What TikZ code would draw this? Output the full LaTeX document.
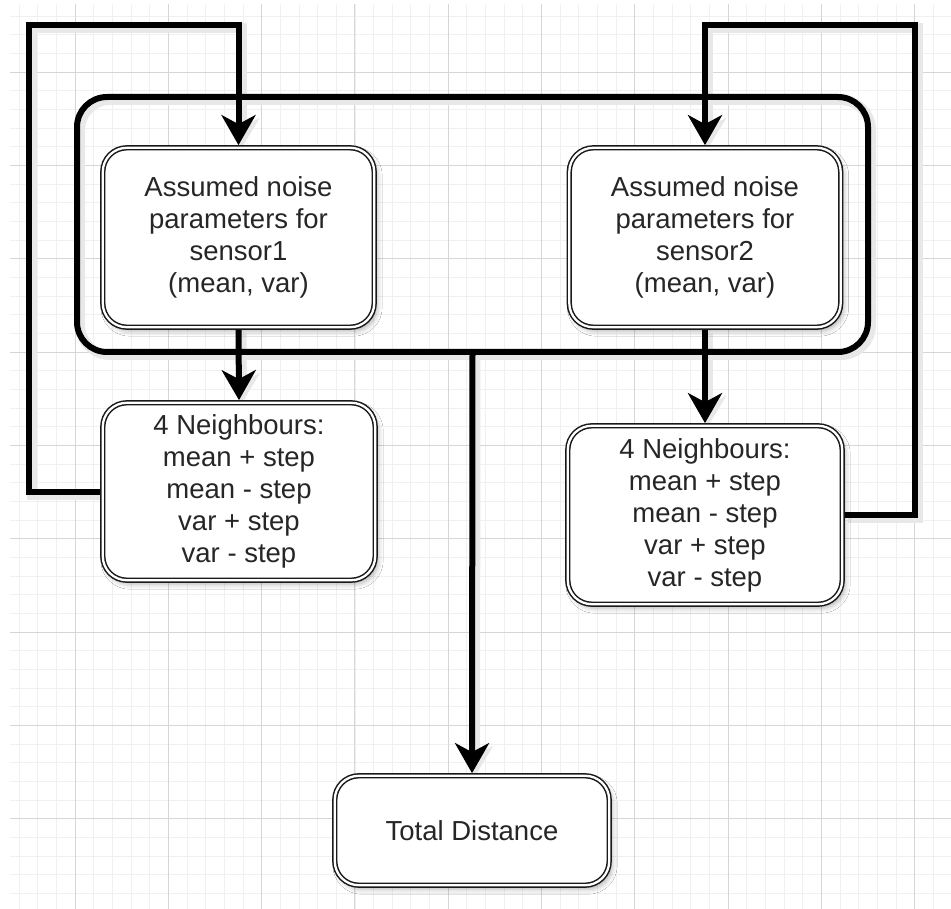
\documentclass[tikz,border=0pt]{standalone}
\usepackage{fontspec}
\setmainfont{Liberation Sans}
\usetikzlibrary{arrows.meta,shadows.blur}
\pgfdeclarelayer{background}
\pgfsetlayers{background,main}

% every connector of the flow chart, drawn with the style given
\newcommand\drawlinks[1]{%
  \draw[#1] (n1.west) -| (lt) -| (s1.north);
  \draw[#1] (n2.east) -| (rt) -| (s2.north);
  \draw[#1] (s1.south) -- (n1.north);
  \draw[#1] (s2.south) -- (n2.north);
  \draw[#1] (grp.south) -- (total.north);
}

\begin{document}
\begin{tikzpicture}[x=1pt,y=-1pt,
  minorgrid/.style={draw=black!6, line width=0.8pt},
  majorgrid/.style={draw=black!16, line width=1pt},
  box/.style={draw=black!90, fill=white, line width=1.5pt, double=white,
    double distance=2.3pt, rounded corners=24pt, outer sep=2.65pt,
    align=center, text=black!85, inner sep=0pt,
    font=\fontsize{27.5}{32}\selectfont,
    blur shadow={shadow xshift=3pt, shadow yshift=-4pt,
      shadow opacity=30, shadow blur radius=5pt}},
  group/.style={draw=black, line width=6pt, rounded corners=30pt,
    inner sep=0pt, outer sep=0pt},
  link/.style={draw=black, line width=6pt,
    -{Stealth[length=30pt,width=34pt,inset=9pt]}},
  linkshadow/.style={draw=black!9, line width=10pt,
    transform canvas={xshift=3pt,yshift=-3pt},
    -{Stealth[length=30pt,width=36pt,inset=9pt]}},
  groupshadow/.style={draw=black!9, line width=10pt, rounded corners=30pt,
    transform canvas={xshift=3pt,yshift=-3pt}}
]
\useasboundingbox (0,0) rectangle (951,909);

% outer group frame
\node[group, minimum width=791pt, minimum height=255pt] (grp) at (472.5,224.5) {};

% parameter boxes
\node[box, minimum width=271.4pt, minimum height=179.4pt] (s1) at (238.5,237.5)
  {Assumed noise\\parameters for\\sensor1\\(mean, var)};
\node[box, minimum width=271.4pt, minimum height=179.4pt] (s2) at (705,237.5)
  {Assumed noise\\parameters for\\sensor2\\(mean, var)};

% neighbour boxes
\node[box, minimum width=272.4pt, minimum height=177.4pt] (n1) at (239,491.5)
  {4 Neighbours:\\mean + step\\mean - step\\var + step\\var - step};
\node[box, minimum width=274.4pt, minimum height=178.4pt] (n2) at (705,515)
  {4 Neighbours:\\mean + step\\mean - step\\var + step\\var - step};

% result
\node[box, minimum width=274.4pt, minimum height=109.4pt] (total) at (472,830.5)
  {Total Distance};

% loop corners
\coordinate (lt) at (29,25);
\coordinate (rt) at (915,25);

\drawlinks{link}

\begin{pgfonlayer}{background}
  \fill[white] (0,0) rectangle (951,909);
  \begin{scope}
    \clip (10,5) rectangle (951,909);
    \foreach \k in {0,...,50} {
      \draw[minorgrid] ({19.02+18.66*\k},0) -- ({19.02+18.66*\k},909);
      \draw[minorgrid] (0,{16.22+18.66*\k}) -- (951,{16.22+18.66*\k});
    }
    \foreach \k in {0,...,9} {
      \draw[majorgrid] ({75+93.3*\k},0) -- ({75+93.3*\k},909);
      \draw[majorgrid] (0,{72.2+93.3*\k}) -- (951,{72.2+93.3*\k});
    }
  \end{scope}
  \draw[groupshadow] (grp.north west) rectangle (grp.south east);
  \drawlinks{linkshadow}
\end{pgfonlayer}
\end{tikzpicture}
\end{document}
